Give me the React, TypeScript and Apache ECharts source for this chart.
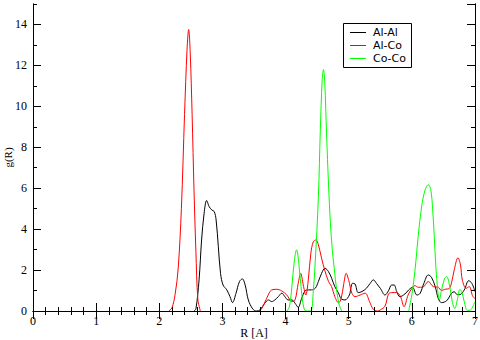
import React, { useEffect, useRef } from "react";
import * as echarts from "echarts";

type P = [number, number | null];

const seriesNames = ["Al-Al", "Al-Co", "Co-Co"];
const seriesColors = ["#000000", "#ff0000", "#00ff00"];

const alAl: P[] = [
  [2.55, 0], [2.58, 0.1], [2.63, 1.52], [2.67, 3.47], [2.71, 4.78], [2.75, 5.4], [2.79, 5.1],
  [2.83, 4.94], [2.87, 4.86], [2.9, 4.45], [2.935, 3.15], [2.97, 1.84], [3.01, 1.27], [3.07, 1.03],
  [3.12, 0.7], [3.16, 0.41], [3.215, 0.87], [3.27, 1.44], [3.315, 1.57], [3.36, 1.27], [3.41, 0.54],
  [3.48, 0.1], [3.54, 0], [3.595, 0.05], [3.67, 0.38], [3.73, 0.54], [3.78, 0.46], [3.83, 0.54],
  [3.885, 0.7], [3.94, 0.87], [3.99, 0.7], [4.04, 0.54], [4.1, 0.54], [4.15, 0.38], [4.2, 0.18],
  [4.255, 0.62], [4.31, 0.99], [4.36, 1.03], [4.41, 1.03], [4.47, 1.11], [4.52, 1.44], [4.57, 1.84],
  [4.625, 2.09], [4.68, 1.92], [4.73, 1.6], [4.78, 1.19], [4.835, 0.9], [4.88, 0.6], [4.94, 0.54],
  [5.01, 0.78], [5.06, 1.35], [5.1, 1.32], [5.15, 0.9], [5.21, 0.95], [5.28, 1.11], [5.34, 1.35],
  [5.39, 1.52], [5.44, 1.35], [5.5, 1.11], [5.575, 0.78], [5.63, 0.99], [5.68, 1.27], [5.72, 1.27],
  [5.76, 0.95], [5.81, 0.7], [5.89, 0.83], [5.95, 1.03], [6.01, 1.16], [6.08, 0.78], [6.13, 0.86],
  [6.19, 1.35], [6.26, 1.76], [6.31, 1.65], [6.37, 1.19], [6.42, 0.6], [6.47, 0.41], [6.55, 0.5],
  [6.63, 0.87], [6.67, 0.94], [6.72, 0.8], [6.76, 0.8], [6.83, 1.03], [6.9, 1.48], [6.95, 1.35],
  [7.0, 0.95],
];

const alCo: P[] = [
  [2.15, 0], [2.2, 0.15], [2.25, 0.8], [2.3, 2.1], [2.35, 5.0], [2.4, 9.6], [2.44, 12.8],
  [2.465, 13.75], [2.49, 12.6], [2.52, 9.6], [2.55, 5.9], [2.58, 2.9], [2.61, 0.6], [2.65, 0],
  [3.0, null],
  [3.58, 0], [3.62, 0.1], [3.7, 0.62], [3.78, 1.03], [3.86, 1.06], [3.94, 0.98], [4.02, 0.78],
  [4.1, 0.46], [4.15, 0.54], [4.2, 1.35], [4.24, 1.84], [4.28, 1.27], [4.32, 0.78], [4.36, 1.52],
  [4.4, 2.82], [4.44, 3.39], [4.48, 3.47], [4.52, 3.23], [4.57, 2.58], [4.62, 2.0], [4.68, 1.44],
  [4.73, 1.19], [4.78, 0.7], [4.84, 0.4], [4.88, 0.6], [4.92, 1.3], [4.96, 1.84], [5.0, 1.5],
  [5.05, 0.87], [5.1, 0.7], [5.18, 0.78], [5.26, 0.87], [5.33, 0.46], [5.39, 0.08], [5.45, 0],
  [5.5, 0.05], [5.575, 0.24], [5.63, 0.83], [5.68, 0.9], [5.76, 0.9], [5.82, 0.7], [5.876, 0.21],
  [5.94, 0.78], [6.0, 1.1], [6.05, 1.24], [6.1, 1.16], [6.17, 1.16], [6.26, 1.44], [6.34, 1.19],
  [6.42, 1.16], [6.47, 1.0], [6.52, 1.06], [6.59, 1.1], [6.63, 1.4], [6.67, 2.0], [6.73, 2.6],
  [6.77, 2.25], [6.8, 1.5], [6.86, 1.11], [6.91, 1.19], [6.96, 0.75], [7.0, 0.6],
];

const coCo: P[] = [
  [4.02, 0], [4.06, 0.2], [4.1, 1.19], [4.14, 2.5], [4.175, 2.99], [4.21, 2.33], [4.255, 0.87],
  [4.3, 0.05], [4.35, 0], [4.4, 0], [4.44, 1.0], [4.48, 3.0], [4.52, 5.6], [4.55, 8.8],
  [4.58, 11.3], [4.6, 11.8], [4.62, 11.2], [4.65, 8.6], [4.68, 6.2], [4.71, 4.3], [4.74, 3.0],
  [4.77, 2.1], [4.81, 1.0], [4.85, 0.29], [4.89, 0],
  [5.4, null],
  [5.95, 0], [6.0, 0.8], [6.05, 2.0], [6.1, 3.64], [6.155, 5.1], [6.21, 5.92], [6.26, 6.17],
  [6.3, 5.92], [6.33, 4.94], [6.355, 3.64], [6.38, 2.17], [6.41, 1.0], [6.435, 0.55], [6.47, 1.03],
  [6.52, 1.6], [6.55, 1.68], [6.6, 1.2], [6.64, 0.45], [6.68, 0.12], [6.72, 0.55], [6.76, 1.05],
  [6.79, 0.95], [6.83, 0.45], [6.88, 0.03], [6.93, 0.05], [6.97, 0.25], [7.0, 0.45],
];

const xMin = 0, xMax = 7, xStep = 1, xMinorSplit = 5;
const yMin = 0, yMax = 15, yMajor = 2, yMinor = 1;

const tickFont = "Liberation Serif";

function makeX(position: "bottom" | "top", labels: boolean) {
  return {
    type: "value", gridIndex: 0, position, min: xMin, max: xMax, interval: xStep, z: 5,
    axisLine: { show: true, lineStyle: { color: "#000", width: 1 } },
    axisTick: { show: true, inside: true, length: 8, lineStyle: { color: "#000", width: 1 } },
    minorTick: { show: true, splitNumber: xMinorSplit, length: 4, lineStyle: { color: "#000", width: 1 } },
    splitLine: { show: false }, minorSplitLine: { show: false },
    axisLabel: { show: labels, color: "#000", fontSize: 12, fontFamily: tickFont, margin: 4 },
    name: labels ? "R [A]" : "",
    nameLocation: "middle", nameGap: 16, nameMoveOverlap: false,
    nameTextStyle: { color: "#000", fontSize: 12, fontFamily: tickFont },
  };
}

function makeY(position: "left" | "right", interval: number, len: number, labels: boolean) {
  return {
    type: "value", gridIndex: 0, position, min: yMin, max: yMax, interval, z: 5,
    axisLine: { show: true, lineStyle: { color: "#000", width: 1 } },
    axisTick: { show: true, inside: true, length: len, lineStyle: { color: "#000", width: 1 } },
    splitLine: { show: false },
    axisLabel: { show: labels, showMaxLabel: false, color: "#000", fontSize: 12, fontFamily: tickFont, margin: 6 },
    name: labels ? "g(R)" : "",
    nameLocation: "middle", nameGap: 20, nameRotate: 90, nameMoveOverlap: false,
    nameTextStyle: { color: "#000", fontSize: 11, fontFamily: tickFont },
  };
}

export default function App() {
  const ref = useRef<HTMLDivElement>(null);
  useEffect(() => {
    if (!ref.current) return;
    const chart = echarts.init(ref.current, null, { renderer: "svg" });
    const datasets = [alAl, alCo, coCo];
    const lx = 343, ly = 23;
    const legendChildren: any[] = [
      { type: "rect", shape: { x: lx + 0.5, y: ly + 0.5, width: 68, height: 44 }, style: { fill: "#fff", stroke: "#000", lineWidth: 1 } },
    ];
    seriesNames.forEach((n, i) => {
      const yy = ly + 9 + i * 13;
      legendChildren.push({ type: "line", shape: { x1: lx + 7, y1: yy + 0.5, x2: lx + 23, y2: yy + 0.5 }, style: { stroke: seriesColors[i], lineWidth: 1 } });
      legendChildren.push({ type: "text", x: lx + 30, y: yy + 0.5, style: { text: n, fill: "#000", font: "11px 'DejaVu Sans'", verticalAlign: "middle", align: "left" } });
    });
    chart.setOption({
      animation: false,
      backgroundColor: "#fff",
      grid: { left: 33, right: 5, top: 4, bottom: 29, containLabel: false, outerBoundsMode: "none" },
      xAxis: [makeX("bottom", true), makeX("top", false)],
      yAxis: [
        makeY("left", yMajor, 8, true),
        makeY("left", yMinor, 4, false),
        makeY("right", yMajor, 8, false),
        makeY("right", yMinor, 4, false),
      ],
      series: datasets.map((d, i) => ({
        type: "line", name: seriesNames[i], data: d, xAxisIndex: 0, yAxisIndex: 0,
        showSymbol: false, symbol: "none", smooth: 0.35, connectNulls: false,
        lineStyle: { color: seriesColors[i], width: 1 }, itemStyle: { color: seriesColors[i] },
        z: 2,
      })),
      graphic: [{ type: "group", z: 100, children: legendChildren }],
    });
    return () => chart.dispose();
  }, []);
  return <div ref={ref} style={{ width: 480, height: 340, position: "absolute", left: 0, top: 0 }} />;
}
